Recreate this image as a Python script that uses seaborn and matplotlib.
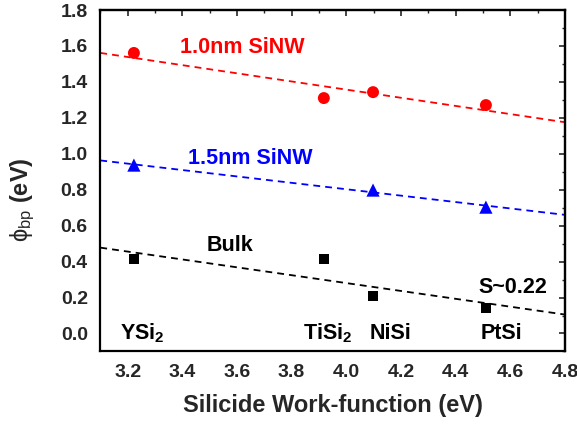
import numpy as np
import pandas as pd
import seaborn as sns
import matplotlib
matplotlib.use("Agg")
import matplotlib.pyplot as plt
from matplotlib.ticker import MultipleLocator, FormatStrFormatter

# ---- data ----
wf_red = [3.223, 3.918, 4.098, 4.511]
phi_red = [1.561, 1.310, 1.343, 1.271]
wf_blue = [3.223, 4.098, 4.511]
phi_blue = [0.937, 0.798, 0.703]
wf_black = [3.223, 3.918, 4.098, 4.511]
phi_black = [0.414, 0.414, 0.208, 0.141]

silicides = ["YSi$_\\mathbf{2}$", "TiSi$_\\mathbf{2}$", "NiSi", "PtSi"]
silicide_x = [3.172, 3.842, 4.087, 4.493]
silicide_y = [0.0, 0.0, 0.0, 0.0]

series_labels = ["1.0nm SiNW", "1.5nm SiNW", "Bulk", "S~0.22"]
series_label_x = [3.392, 3.421, 3.49, 4.482]
series_label_y = [1.594, 0.976, 0.49, 0.258]

sns.set_style("white")
plt.rcParams["font.family"] = ["Liberation Sans", "DejaVu Sans"]
plt.rcParams["mathtext.fontset"] = "custom"
plt.rcParams["mathtext.rm"] = "Liberation Sans"
plt.rcParams["mathtext.bf"] = "Liberation Sans:bold"
plt.rcParams["mathtext.it"] = "Liberation Sans:italic"

fig = plt.figure(figsize=(5.77, 4.26), dpi=100)
ax = fig.add_axes([0.1738, 0.175, 0.8052, 0.8015])
ax.set_xlim(3.1, 4.8)
ax.set_ylim(-0.1, 1.8)

dash = (3.8, 2.8)
for xs, ys, col in [(wf_red, phi_red, "#ff0000"), (wf_blue, phi_blue, "#0000ff"),
                    (wf_black, phi_black, "#000000")]:
    sns.regplot(x=xs, y=ys, ax=ax, scatter=False, ci=None, truncate=False,
                line_kws=dict(color=col, lw=1.3, dashes=dash))

sns.scatterplot(x=wf_red, y=phi_red, ax=ax, marker="o", s=74, color="#ff0000",
                edgecolor="none", zorder=5)
sns.scatterplot(x=wf_blue, y=phi_blue, ax=ax, marker="^", s=90, color="#0000ff",
                edgecolor="none", zorder=5)
sns.scatterplot(x=wf_black, y=phi_black, ax=ax, marker="s", s=58, color="#000000",
                edgecolor="none", zorder=5)
ax.set_xlim(3.1, 4.8)
ax.set_ylim(-0.1, 1.8)

label_colors = ["#ff0000", "#0000ff", "#000000", "#000000"]
for t, x, y, c in zip(series_labels, series_label_x, series_label_y, label_colors):
    ax.text(x, y, t, color=c, fontsize=15.5, fontweight="bold", ha="left", va="center")
for t, x, y in zip(silicides, silicide_x, silicide_y):
    ax.text(x, y, t, color="black", fontsize=15.5, fontweight="bold", ha="left", va="center")

ax.xaxis.set_major_locator(MultipleLocator(0.2))
ax.xaxis.set_minor_locator(MultipleLocator(0.1))
ax.yaxis.set_major_locator(MultipleLocator(0.2))
ax.yaxis.set_minor_locator(MultipleLocator(0.1))
ax.xaxis.set_major_formatter(FormatStrFormatter("%.1f"))
ax.yaxis.set_major_formatter(FormatStrFormatter("%.1f"))
ax.tick_params(which="major", direction="out", length=6, width=1.3, labelsize=14, pad=3)
ax.tick_params(which="minor", direction="out", length=3.5, width=1.1)
ax.tick_params(axis="x", which="major", pad=3)
for lab in ax.get_xticklabels() + ax.get_yticklabels():
    lab.set_fontweight("bold")
for sp in ax.spines.values():
    sp.set_linewidth(1.6)
    sp.set_color("black")

secx = ax.secondary_xaxis("top")
secx.xaxis.set_major_locator(MultipleLocator(0.2))
secx.xaxis.set_minor_locator(MultipleLocator(0.1))
secx.tick_params(which="major", direction="in", length=4, width=1.2, labeltop=False)
secx.tick_params(which="minor", direction="in", length=2.5, width=1.0)
secx.spines["top"].set_linewidth(1.6)
secy = ax.secondary_yaxis("right")
secy.yaxis.set_major_locator(MultipleLocator(0.2))
secy.yaxis.set_minor_locator(MultipleLocator(0.1))
secy.tick_params(which="major", direction="in", length=4, width=1.2, labelright=False)
secy.tick_params(which="minor", direction="in", length=2.5, width=1.0)
secy.spines["right"].set_linewidth(1.6)

ax.set_xlabel("Silicide Work-function (eV)", fontsize=17, fontweight="bold")
ax.set_ylabel(r"$\mathrm{\phi_{bp}}$ (eV)", fontsize=17, fontweight="bold")
ax.xaxis.set_label_coords(0.5, -0.125)
ax.yaxis.set_label_coords(-0.136, 0.444)

fig.savefig("out.png", dpi=100)
